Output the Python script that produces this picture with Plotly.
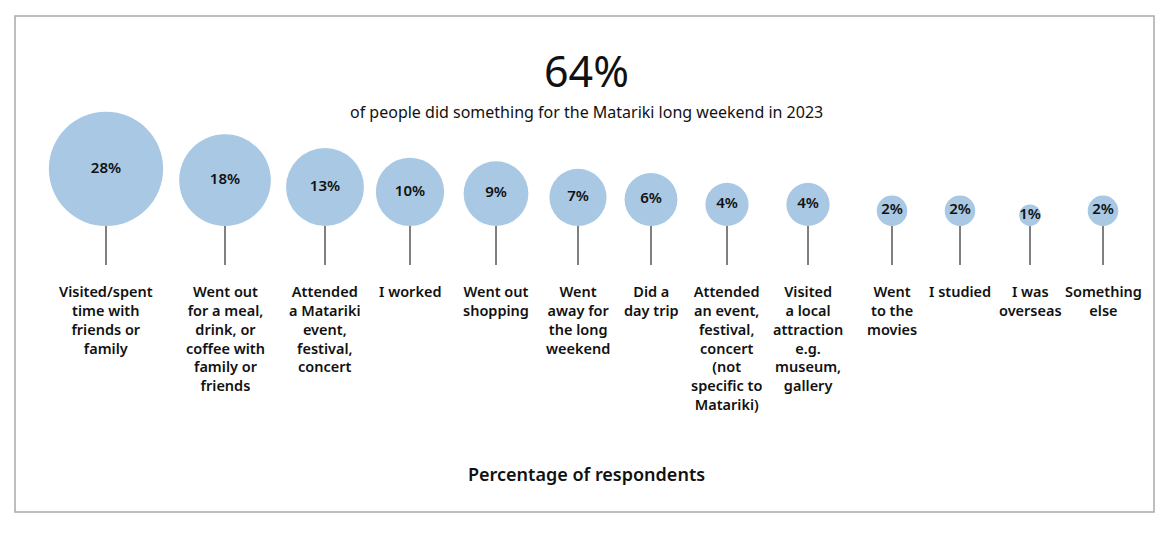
import math
import plotly.graph_objects as go

# ---- data ----
categories = [
    "Visited/spent|time with|friends or|family",
    "Went out|for a meal,|drink, or|coffee with|family or|friends",
    "Attended|a Matariki|event,|festival,|concert",
    "I worked",
    "Went out|shopping",
    "Went|away for|the long|weekend",
    "Did a|day trip",
    "Attended|an event,|festival,|concert|(not|specific to|Matariki)",
    "Visited|a local|attraction|e.g.|museum,|gallery",
    "Went|to the|movies",
    "I studied",
    "I was|overseas",
    "Something|else",
]
values = [28, 18, 13, 10, 9, 7, 6, 4, 4, 2, 2, 1, 2]
headline = "64%"
subtitle = "of people did something for the Matariki long weekend in 2023"
axis_title = "Percentage of respondents"

# ---- layout helpers (pixel-unit axes) ----
W, H = 1173, 533
x_pos = [106, 225, 325, 410, 496, 578, 651, 727, 808, 892, 960, 1030, 1103]
baseline = 226
stem_end = 265
k = 10.8  # px radius per sqrt(percent)
FONT = "Noto Sans"
COLOR = "#a8c8e4"

radii = [k * math.sqrt(v) for v in values]
cy = [baseline - r for r in radii]

fig = go.Figure()

# stems
sx, sy = [], []
for x in x_pos:
    sx += [x, x, None]
    sy += [baseline, stem_end, None]
fig.add_trace(go.Scatter(x=sx, y=sy, mode="lines",
                         line=dict(color="#000000", width=1),
                         hoverinfo="skip", showlegend=False))

# bubbles
fig.add_trace(go.Scatter(
    x=x_pos, y=cy, mode="markers+text",
    marker=dict(size=[2 * r for r in radii], sizemode="diameter",
                color=COLOR, line=dict(width=0), opacity=1),
    text=[f"{v}%" for v in values], textposition="middle center",
    textfont=dict(family=FONT, size=15, color="#111111", weight=600),
    showlegend=False, hoverinfo="skip"))

annotations = []
for x, cat in zip(x_pos, categories):
    annotations.append(dict(
        x=x, y=280, xref="x", yref="y", text="<br>".join(cat.split("|")),
        showarrow=False, xanchor="center", yanchor="top", align="center",
        borderpad=0,
        font=dict(family=FONT, size=14.5, color="#111111", weight=600)))

annotations += [
    dict(x=586, y=101, xref="x", yref="y", text=headline, showarrow=False,
         xanchor="center", yanchor="bottom", borderpad=0,
         font=dict(family=FONT, size=43, color="#111111")),
    dict(x=586, y=112, xref="x", yref="y", text=subtitle, showarrow=False,
         xanchor="center", yanchor="middle", borderpad=0,
         font=dict(family=FONT, size=16, color="#111111")),
    dict(x=586, y=474, xref="x", yref="y", text=axis_title, showarrow=False,
         xanchor="center", yanchor="middle",
         font=dict(family=FONT, size=18, color="#111111", weight=600)),
]

fig.update_layout(
    width=W, height=H,
    margin=dict(l=0, r=0, t=0, b=0),
    paper_bgcolor="white", plot_bgcolor="white",
    xaxis=dict(range=[0, W], visible=False, fixedrange=True),
    yaxis=dict(range=[H, 0], visible=False, fixedrange=True),
    annotations=annotations,
    shapes=[dict(type="rect", xref="x", yref="y", x0=15, y0=16, x1=1154, y1=512,
                 line=dict(color="#a9a9a9", width=1.5), fillcolor="rgba(0,0,0,0)",
                 layer="below")],
)

fig.write_html("out.html")
